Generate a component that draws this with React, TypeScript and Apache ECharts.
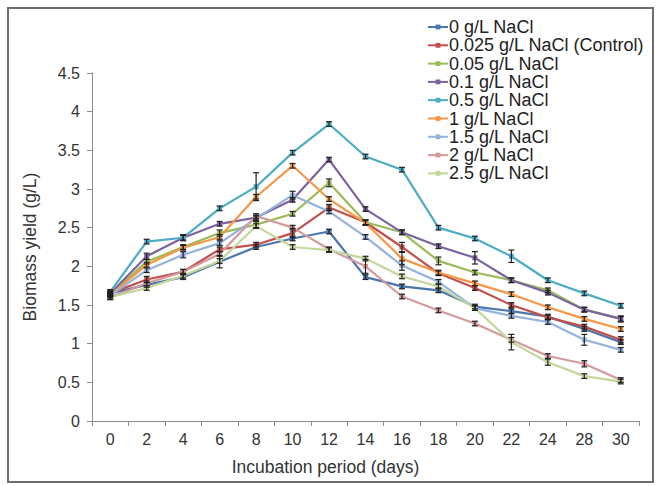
import React, { useEffect, useRef } from "react";
import * as echarts from "echarts";

const days = ["0", "2", "4", "6", "8", "10", "12", "14", "16", "18", "20", "22", "24", "28", "30"];
const yTicks = [0, 0.5, 1, 1.5, 2, 2.5, 3, 3.5, 4, 4.5];

const names = [
  "0 g/L NaCl",
  "0.025 g/L NaCl (Control)",
  "0.05 g/L NaCl",
  "0.1 g/L NaCl",
  "0.5 g/L NaCl",
  "1 g/L NaCl",
  "1.5 g/L NaCl",
  "2 g/L NaCl",
  "2.5 g/L NaCl",
];
const colors = ["#4A76AE", "#C0504D", "#9BBB59", "#7D62A0", "#4BACC6", "#F79646", "#93B3DC", "#D3999B", "#C3D69B"];

const s0 = [1.65, 1.76, 1.86, 2.06, 2.25, 2.36, 2.45, 1.86, 1.74, 1.69, 1.48, 1.42, 1.35, 1.19, 1.02];
const s0025 = [1.65, 1.83, 1.93, 2.22, 2.28, 2.43, 2.76, 2.57, 2.25, 1.91, 1.72, 1.5, 1.34, 1.22, 1.05];
const s005 = [1.64, 2.06, 2.25, 2.43, 2.54, 2.68, 3.08, 2.57, 2.44, 2.07, 1.92, 1.82, 1.69, 1.44, 1.32];
const s01 = [1.65, 2.13, 2.37, 2.55, 2.63, 2.86, 3.38, 2.74, 2.44, 2.26, 2.11, 1.82, 1.66, 1.44, 1.32];
const s05 = [1.67, 2.32, 2.37, 2.75, 3.03, 3.47, 3.84, 3.42, 3.25, 2.5, 2.36, 2.13, 1.82, 1.65, 1.49];
const s1 = [1.63, 2.02, 2.24, 2.38, 2.9, 3.3, 2.87, 2.56, 2.1, 1.92, 1.78, 1.64, 1.47, 1.32, 1.19];
const s15 = [1.62, 1.95, 2.15, 2.3, 2.62, 2.92, 2.71, 2.38, 2.01, 1.8, 1.46, 1.36, 1.28, 1.05, 0.92];
const s2 = [1.6, 1.78, 1.93, 2.16, 2.65, 2.5, 2.22, 2.0, 1.61, 1.43, 1.26, 1.05, 0.84, 0.74, 0.53];
const s25 = [1.6, 1.72, 1.88, 2.07, 2.52, 2.25, 2.21, 2.1, 1.87, 1.74, 1.46, 1.02, 0.76, 0.58, 0.51];

const e0 = [0.03, 0.03, 0.03, 0.08, 0.03, 0.03, 0.03, 0.03, 0.03, 0.03, 0.03, 0.03, 0.03, 0.03, 0.03];
const e0025 = [0.03, 0.04, 0.03, 0.03, 0.03, 0.06, 0.04, 0.03, 0.06, 0.03, 0.03, 0.03, 0.03, 0.03, 0.04];
const e005 = [0.03, 0.03, 0.03, 0.04, 0.04, 0.03, 0.05, 0.03, 0.03, 0.05, 0.03, 0.03, 0.03, 0.03, 0.03];
const e01 = [0.03, 0.04, 0.03, 0.03, 0.03, 0.03, 0.03, 0.03, 0.03, 0.03, 0.08, 0.03, 0.03, 0.03, 0.04];
const e05 = [0.03, 0.03, 0.04, 0.03, 0.18, 0.03, 0.03, 0.03, 0.03, 0.03, 0.03, 0.08, 0.03, 0.03, 0.03];
const e1 = [0.03, 0.03, 0.03, 0.03, 0.03, 0.03, 0.03, 0.03, 0.08, 0.03, 0.03, 0.03, 0.03, 0.03, 0.03];
const e15 = [0.03, 0.03, 0.04, 0.03, 0.03, 0.05, 0.03, 0.03, 0.06, 0.03, 0.03, 0.03, 0.03, 0.07, 0.03];
const e2 = [0.03, 0.03, 0.03, 0.03, 0.03, 0.03, 0.03, 0.09, 0.03, 0.03, 0.03, 0.03, 0.03, 0.04, 0.03];
const e25 = [0.03, 0.03, 0.03, 0.03, 0.03, 0.03, 0.03, 0.03, 0.03, 0.03, 0.03, 0.1, 0.04, 0.03, 0.03];

const values = [s0, s0025, s005, s01, s05, s1, s15, s2, s25];
const errors = [e0, e0025, e005, e01, e05, e1, e15, e2, e25];

const FONT = "'Liberation Sans', Arial, sans-serif";

export default function App() {
  const ref = useRef<HTMLDivElement>(null);
  useEffect(() => {
    if (!ref.current) return;
    const chart = echarts.init(ref.current, null, { renderer: "svg" });

    const lineSeries = names.map((name, i) => ({
      name,
      type: "line",
      data: values[i],
      symbol: "rect",
      symbolSize: 5,
      z: 3,
      lineStyle: { color: colors[i], width: 2.2 },
      itemStyle: { color: colors[i] },
      emphasis: { disabled: true },
    }));

    const errData: number[][] = [];
    values.forEach((arr, i) => {
      arr.forEach((v, j) => errData.push([j, v, errors[i][j]]));
    });

    const errSeries = {
      type: "custom",
      name: "err",
      z: 4,
      silent: true,
      data: errData,
      renderItem: (params: any, api: any) => {
        const x = api.value(0);
        const v = api.value(1);
        const e = api.value(2);
        const top = api.coord([x, v + e]);
        const bot = api.coord([x, v - e]);
        const st = { stroke: "#222", lineWidth: 1.2 };
        return {
          type: "group",
          children: [
            { type: "line", shape: { x1: top[0], y1: top[1], x2: bot[0], y2: bot[1] }, style: st },
            { type: "line", shape: { x1: top[0] - 3, y1: top[1], x2: top[0] + 3, y2: top[1] }, style: st },
            { type: "line", shape: { x1: bot[0] - 3, y1: bot[1], x2: bot[0] + 3, y2: bot[1] }, style: st },
          ],
        };
      },
    };

    chart.setOption({
      animation: false,
      backgroundColor: "#fff",
      textStyle: { fontFamily: FONT },
      grid: { left: 92, right: 19, top: 73, bottom: 65, containLabel: false },
      legend: {
        data: names,
        orient: "vertical",
        left: 425,
        top: 16,
        itemWidth: 20,
        itemHeight: 6,
        itemGap: 0.3,
        backgroundColor: "#fff",
        padding: [2, 4, 2, 2],
        textStyle: { fontSize: 18, lineHeight: 18, color: "#222", fontFamily: FONT, padding: [0, 0, 0, -4] },
      },
      xAxis: {
        type: "category",
        data: days,
        boundaryGap: true,
        name: "Incubation period (days)",
        nameLocation: "middle",
        nameGap: 37,
        nameTextStyle: { fontSize: 17.5, color: "#333", fontFamily: FONT, padding: [0, 80, 0, 0] },
        axisLine: { lineStyle: { color: "#8a8a8a", width: 1 } },
        axisTick: { show: true, alignWithLabel: false, length: 5, lineStyle: { color: "#8a8a8a" } },
        axisLabel: { fontSize: 16, color: "#333", margin: 10, fontFamily: FONT },
        splitLine: { show: false },
      },
      yAxis: {
        type: "value",
        min: yTicks[0],
        max: yTicks[yTicks.length - 1],
        interval: 0.5,
        name: "Biomass yield (g/L)",
        nameLocation: "middle",
        nameGap: 53,
        nameTextStyle: { fontSize: 17.5, color: "#333", fontFamily: FONT },
        axisLine: { show: true, lineStyle: { color: "#8a8a8a", width: 1 } },
        axisTick: { show: true, length: 5, lineStyle: { color: "#8a8a8a" } },
        axisLabel: { fontSize: 16, color: "#333", margin: 12, fontFamily: FONT },
        splitLine: { show: false },
      },
      graphic: [
        {
          type: "rect",
          shape: { x: 8, y: 8, width: 645, height: 474 },
          style: { fill: "none", stroke: "#6e6e6e", lineWidth: 2 },
          z: -1,
          silent: true,
        },
      ],
      series: [...lineSeries, errSeries],
    });
    return () => chart.dispose();
  }, []);
  return <div ref={ref} style={{ position: "fixed", left: 0, top: 0, width: 658, height: 486 }} />;
}
